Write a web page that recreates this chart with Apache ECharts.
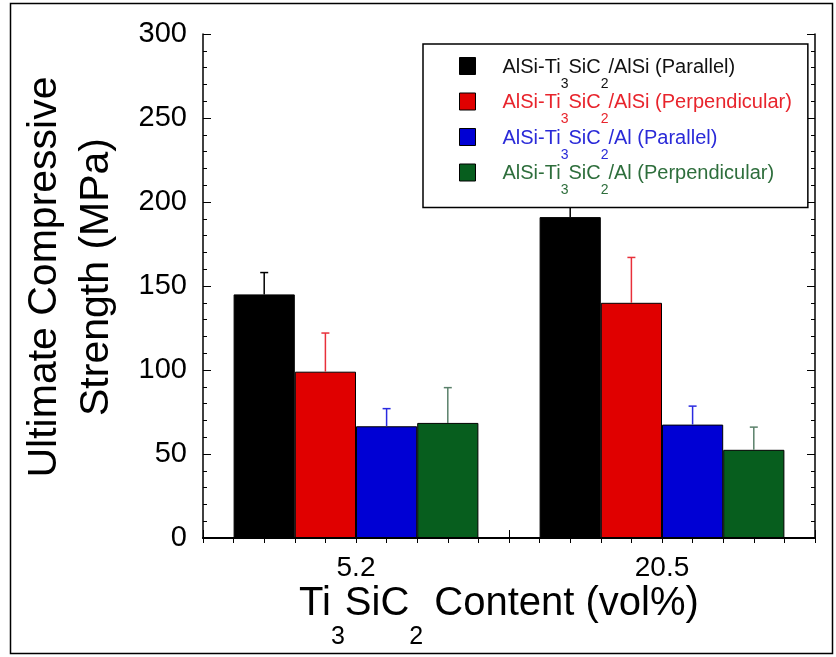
<!DOCTYPE html>
<html>
<head>
<meta charset="utf-8">
<script src="https://cdn.jsdelivr.net/npm/echarts@6/dist/echarts.min.js"></script>
<style>
  html, body { margin: 0; padding: 0; background: #ffffff; }
  #chart { width: 836px; height: 657px; }
</style>
</head>
<body>
<div id="chart"></div>
<script>
// Ti3SiC2 content (vol%) groups
const categories = ['5.2', '20.5'];

// Mean ultimate compressive strength (MPa) per series
const alsiParallel = [145, 191];
const alsiPerpendicular = [99, 140];
const alParallel = [66.5, 67.5];
const alPerpendicular = [68.5, 52.5];

// Upper error (MPa) per series
const alsiParallelErr = [13, 10];
const alsiPerpendicularErr = [23, 27];
const alParallelErr = [10.5, 11];
const alPerpendicularErr = [21, 13.5];

const yTicks = [0, 50, 100, 150, 200, 250, 300];

const FONT = 'Liberation Sans, Arial, Helvetica, sans-serif';

const seriesDefs = [
  { name: 'AlSi-Ti3SiC2/AlSi (Parallel)', label: ['AlSi-Ti', '3', 'SiC', '2', '/AlSi (Parallel)'],
    values: alsiParallel, err: alsiParallelErr, color: '#000000', text: '#111111', errColor: '#000000' },
  { name: 'AlSi-Ti3SiC2/AlSi (Perpendicular)', label: ['AlSi-Ti', '3', 'SiC', '2', '/AlSi (Perpendicular)'],
    values: alsiPerpendicular, err: alsiPerpendicularErr, color: '#e00000', text: '#e8242c', errColor: '#e8303a' },
  { name: 'AlSi-Ti3SiC2/Al (Parallel)', label: ['AlSi-Ti', '3', 'SiC', '2', '/Al (Parallel)'],
    values: alParallel, err: alParallelErr, color: '#0000d4', text: '#2a2ad8', errColor: '#2a2ae0' },
  { name: 'AlSi-Ti3SiC2/Al (Perpendicular)', label: ['AlSi-Ti', '3', 'SiC', '2', '/Al (Perpendicular)'],
    values: alPerpendicular, err: alPerpendicularErr, color: '#075e1e', text: '#2e6e3c', errColor: '#5a806a' }
];

const legendRich = {};
seriesDefs.forEach(function (s, i) {
  legendRich['m' + i] = { fontFamily: FONT, fontSize: 20, color: s.text, lineHeight: 24,
    verticalAlign: 'top', padding: [3, 0, 0, 0] };
  legendRich['s' + i] = { fontFamily: FONT, fontSize: 14, color: s.text, lineHeight: 16,
    verticalAlign: 'top', padding: [23, 0, 1, 0] };
});

const barCount = seriesDefs.length;
const groupFill = 0.8;

const series = [];
seriesDefs.forEach(function (s) {
  series.push({
    name: s.name,
    type: 'bar',
    data: s.values,
    barGap: '0%',
    barCategoryGap: '20%',
    itemStyle: { color: s.color, borderColor: '#000000', borderWidth: 1 },
    emphasis: { disabled: true },
    z: 2
  });
});
seriesDefs.forEach(function (s, si) {
  series.push({
    type: 'custom',
    name: s.name + ' error',
    data: s.values.map(function (v, i) { return [i, v, v + s.err[i]]; }),
    encode: { x: 0, y: [1, 2] },
    z: 3,
    silent: true,
    renderItem: function (params, api) {
      const cat = api.value(0);
      const base = api.coord([cat, api.value(1)]);
      const top = api.coord([cat, api.value(2)]);
      const catW = api.size([1, 0])[0];
      const barW = catW * groupFill / barCount;
      const x = base[0] + (si - (barCount - 1) / 2) * barW;
      const cap = 4;
      return {
        type: 'group',
        children: [
          { type: 'line', shape: { x1: x, y1: base[1], x2: x, y2: top[1] },
            style: { stroke: s.errColor, lineWidth: 1.5 } },
          { type: 'line', shape: { x1: x - cap, y1: top[1], x2: x + cap, y2: top[1] },
            style: { stroke: s.errColor, lineWidth: 1.5 } }
        ]
      };
    }
  });
});

const chart = echarts.init(document.getElementById('chart'), null, { renderer: 'canvas' });

chart.setOption({
  animation: false,
  backgroundColor: '#ffffff',
  textStyle: { fontFamily: FONT },
  grid: { left: 203, right: 21, top: 34, bottom: 119, containLabel: false, outerBoundsMode: 'none' },
  legend: {
    orient: 'vertical',
    left: 423,
    top: 44,
    itemWidth: 16,
    itemHeight: 17,
    itemGap: -2.5,
    icon: 'rect',
    padding: [10, 16, 9, 36],
    backgroundColor: '#ffffff',
    borderColor: '#000000',
    borderWidth: 1.5,
    borderRadius: 0,
    selectedMode: false,
    data: seriesDefs.map(function (s) {
      return { name: s.name, itemStyle: { borderColor: '#000000', borderWidth: 1 } };
    }),
    formatter: function (name) {
      const i = seriesDefs.findIndex(function (s) { return s.name === name; });
      const p = seriesDefs[i].label;
      return '{m' + i + '|' + p[0] + '}{s' + i + '|' + p[1] + '}{m' + i + '|' + p[2] +
        '}{s' + i + '|' + p[3] + '}{m' + i + '|' + p[4] + '}';
    },
    textStyle: { padding: [0, 0, 0, 22], rich: legendRich }
  },
  xAxis: [
    {
      type: 'category',
      data: categories,
      position: 'bottom',
      axisLine: { show: true, lineStyle: { color: '#000000', width: 1.5 } },
      axisTick: { show: true, inside: true, length: 8, lineStyle: { color: '#000000' } },
      axisLabel: { color: '#000000', fontSize: 28, fontFamily: FONT, margin: 16 },
      splitLine: { show: false },
      name: '{m|Ti}{s|3}{m|SiC}{s|2}{m| Content (vol%)}',
      nameLocation: 'middle',
      nameGap: 46,
      nameMoveOverlap: false,
      nameTextStyle: {
        padding: [0, 20, 0, 0],
        rich: {
          m: { fontFamily: FONT, fontSize: 40, color: '#000000', lineHeight: 44, verticalAlign: 'top' },
          s: { fontFamily: FONT, fontSize: 25, color: '#000000', lineHeight: 26, verticalAlign: 'top', padding: [41, 0, 0, 0] }
        }
      }
    },
    {
      type: 'value',
      position: 'top',
      min: 0,
      max: 20,
      interval: 1,
      axisLine: { show: true, lineStyle: { color: '#000000', width: 2 } },
      axisTick: { show: true, inside: true, length: 5, lineStyle: { color: '#000000' } },
      axisLabel: { show: false },
      splitLine: { show: false }
    }
  ],
  yAxis: [
    {
      type: 'value',
      min: 0,
      max: 300,
      interval: 50,
      position: 'left',
      axisLine: { show: true, lineStyle: { color: '#000000', width: 1.5 } },
      axisTick: { show: true, inside: true, length: 8, lineStyle: { color: '#000000' } },
      minorTick: { show: true, splitNumber: 5, length: 4, lineStyle: { color: '#000000' } },
      axisLabel: { color: '#000000', fontSize: 29, fontFamily: FONT, margin: 16,
        formatter: function (v) { return yTicks.indexOf(v) >= 0 ? String(v) : ''; } },
      splitLine: { show: false },
      name: 'Ultimate Compressive\nStrength (MPa)',
      nameLocation: 'middle',
      nameRotate: 90,
      nameGap: 80,
      nameTextStyle: { fontFamily: FONT, fontSize: 41, color: '#000000', lineHeight: 52,
        align: 'center', padding: [0, 0, 0, 18] }
    },
    {
      type: 'value',
      min: 0,
      max: 300,
      interval: 50,
      position: 'right',
      axisLine: { show: true, lineStyle: { color: '#000000', width: 1.5 } },
      axisTick: { show: true, inside: true, length: 8, lineStyle: { color: '#000000' } },
      minorTick: { show: true, splitNumber: 5, length: 4, lineStyle: { color: '#000000' } },
      axisLabel: { show: false },
      splitLine: { show: false }
    }
  ],
  series: series,
  graphic: [
    { type: 'rect', shape: { x: 10.5, y: 3.5, width: 822, height: 650 },
      style: { fill: 'none', stroke: '#000000', lineWidth: 1.5 }, silent: true, z: 100 }
  ]
});
</script>
</body>
</html>
